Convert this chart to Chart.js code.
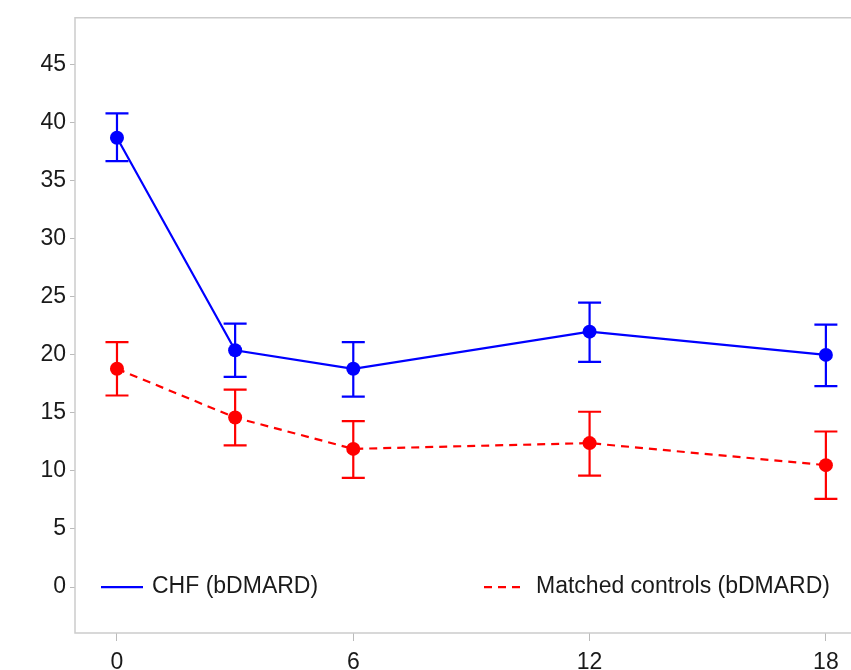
<!DOCTYPE html>
<html>
<head>
<meta charset="utf-8">
<script src="https://cdn.jsdelivr.net/npm/chart.js@4"></script>
<style>
  html, body { margin: 0; padding: 0; background: #fff; overflow: hidden; }
  #wrap { width: 851px; height: 670px; position: relative; }
</style>
</head>
<body>
<div id="wrap"><canvas id="chart"></canvas></div>
<script>
const months = [0, 3, 6, 12, 18];
const chfMean = [38.7, 20.4, 18.8, 22.0, 20.0];
const chfLower = [36.7, 18.1, 16.4, 19.4, 17.3];
const chfUpper = [40.8, 22.7, 21.1, 24.5, 22.6];
const ctrlMean = [18.8, 14.6, 11.9, 12.4, 10.5];
const ctrlLower = [16.5, 12.2, 9.4, 9.6, 7.6];
const ctrlUpper = [21.1, 17.0, 14.3, 15.1, 13.4];
const yTicks = [0, 5, 10, 15, 20, 25, 30, 35, 40, 45];
const xTicks = [0, 6, 12, 18];
const seriesNames = ["CHF (bDMARD)", "Matched controls (bDMARD)"];

const FONT = "Arial, 'Liberation Sans', sans-serif";
const blue = "#0000ff", red = "#ff0000";

const toPoints = (ys) => months.map((m, i) => ({ x: m, y: ys[i] }));

// frame around the plot area
const framePlugin = {
    id: "frame",
    beforeDatasetsDraw(chart) {
        const { ctx, chartArea: a } = chart;
        ctx.save();
        ctx.strokeStyle = "#cccccc";
        ctx.lineWidth = 1.5;
        ctx.beginPath();
        ctx.moveTo(chart.width, a.top);
        ctx.lineTo(a.left, a.top);
        ctx.lineTo(a.left, a.bottom);
        ctx.lineTo(chart.width, a.bottom);
        ctx.stroke();
        ctx.restore();
    },
};

// error bars drawn from the lower/upper arrays
const errorBarPlugin = {
    id: "errorBars",
    beforeDatasetsDraw(chart) {
        const { ctx } = chart;
        const xs = chart.scales.x, ys = chart.scales.y;
        ctx.save();
        chart.data.datasets.forEach((ds) => {
            ctx.strokeStyle = ds.borderColor;
            ctx.lineWidth = 2.2;
            ctx.setLineDash([]);
            months.forEach((m, i) => {
                const px = xs.getPixelForValue(m);
                const top = ys.getPixelForValue(ds.upper[i]);
                const bot = ys.getPixelForValue(ds.lower[i]);
                ctx.beginPath();
                ctx.moveTo(px, top);
                ctx.lineTo(px, bot);
                ctx.moveTo(px - 11.5, top);
                ctx.lineTo(px + 11.5, top);
                ctx.moveTo(px - 11.5, bot);
                ctx.lineTo(px + 11.5, bot);
                ctx.stroke();
            });
        });
        ctx.restore();
    },
};

// legend inside the plot, along the bottom
const legendPlugin = {
    id: "insideLegend",
    afterDatasetsDraw(chart) {
        const { ctx } = chart;
        const ys = chart.scales.y;
        const y = ys.getPixelForValue(0);
        ctx.save();
        ctx.font = "23px " + FONT;
        ctx.textBaseline = "middle";
        ctx.fillStyle = "#1a1a1a";
        ctx.lineWidth = 2.2;

        ctx.strokeStyle = blue;
        ctx.setLineDash([]);
        ctx.beginPath();
        ctx.moveTo(101, y);
        ctx.lineTo(143, y);
        ctx.stroke();
        ctx.fillText(seriesNames[0], 152, y);

        ctx.strokeStyle = red;
        ctx.setLineDash([8, 6]);
        ctx.beginPath();
        ctx.moveTo(484, y);
        ctx.lineTo(524, y);
        ctx.stroke();
        ctx.setLineDash([]);
        ctx.fillText(seriesNames[1], 536, y);
        ctx.restore();
    },
};

new Chart(document.getElementById("chart"), {
    type: "line",
    data: {
        datasets: [
            {
                label: seriesNames[0],
                data: toPoints(chfMean),
                upper: chfUpper,
                lower: chfLower,
                borderColor: blue,
                backgroundColor: blue,
                borderWidth: 2.2,
                pointRadius: 7,
                pointBorderWidth: 0,
                tension: 0,
            },
            {
                label: seriesNames[1],
                data: toPoints(ctrlMean),
                upper: ctrlUpper,
                lower: ctrlLower,
                borderColor: red,
                backgroundColor: red,
                borderWidth: 2.2,
                borderDash: [8, 6],
                pointRadius: 7,
                pointBorderWidth: 0,
                tension: 0,
            },
        ],
    },
    options: {
        responsive: true,
        maintainAspectRatio: false,
        animation: false,
        layout: { padding: { top: 17, right: 0, left: 0, bottom: 0 } },
        plugins: {
            legend: { display: false },
            tooltip: { enabled: false },
        },
        scales: {
            x: {
                type: "linear",
                min: -1.066,
                max: 18.46,
                afterBuildTicks: (scale) => { scale.ticks = xTicks.map((v) => ({ value: v })); },
                afterFit: (scale) => { scale.height = 37; },
                grid: { drawOnChartArea: false, tickLength: 8, color: "#bbbbbb" },
                border: { display: false },
                ticks: { font: { size: 23, family: FONT }, color: "#1a1a1a", padding: 8, maxRotation: 0 },
            },
            y: {
                min: -3.96,
                max: 49.04,
                afterBuildTicks: (scale) => { scale.ticks = yTicks.map((v) => ({ value: v })); },
                afterFit: (scale) => { scale.width = 75; },
                grid: { drawOnChartArea: false, tickLength: 5, color: "#bbbbbb" },
                border: { display: false },
                ticks: { font: { size: 23, family: FONT }, color: "#1a1a1a", padding: 4 },
            },
        },
    },
    plugins: [framePlugin, errorBarPlugin, legendPlugin],
});
</script>
</body>
</html>
